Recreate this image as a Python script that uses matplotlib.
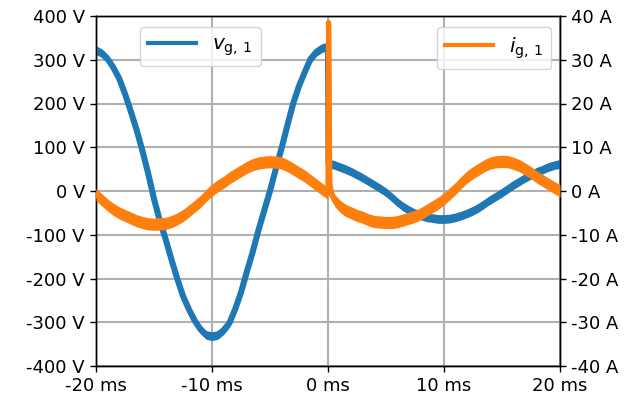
#!/usr/bin/env python3

import matplotlib
matplotlib.use("Agg")
import matplotlib.pyplot as plt
from matplotlib.lines import Line2D
from matplotlib.ticker import FuncFormatter, MultipleLocator
import numpy as np

# -------------------------- data --------------------------

# grid voltage v_g,1 (time in ms, value in V)
V_TIME = [-20, -19.5, -19, -18.5, -18, -17.5, -17, -16.5, -16, -15.5, -15, -14.5, -14,
          -13.5, -13, -12.5, -12, -11.5, -11, -10.5, -10, -9.5, -9, -8.5, -8, -7.5,
          -7, -6.5, -6, -5.5, -5, -4.5, -4, -3.5, -3, -2.5, -2, -1.5, -1, -0.5, 0,
          0.05, 0.5, 1, 1.5, 2, 2.5, 3, 3.5, 4, 4.5, 5, 5.5, 6, 6.5, 7, 7.5, 8, 8.5,
          9, 9.5, 10, 10.5, 11, 11.5, 12, 12.5, 13, 13.5, 14, 14.5, 15, 15.5, 16,
          16.5, 17, 17.5, 18, 18.5, 19, 19.5, 20]
V_VALUES = [322, 315, 302, 282, 257, 222, 182, 140, 92, 40, -18, -68, -110,
            -156, -200, -240, -270, -296, -316, -329, -332, -329, -318, -302, -270, -232,
            -185, -140, -90, -45, 0, 50, 98, 150, 200, 240, 272, 302, 318, 327, 330,
            62, 60, 55, 50, 44, 37, 30, 22, 14, 6, -3, -14, -26, -36, -44, -51, -56, -60,
            -62, -64, -64, -63, -60, -56, -51, -45, -38, -29, -20, -12, -4, 5, 14,
            22, 30, 37, 44, 49, 55, 59, 62]

# grid current i_g,1 (time in ms, value in A)
I_TIME = [-20, -19.5, -19, -18.5, -18, -17.5, -17, -16.5, -16, -15.5, -15, -14.5, -14,
          -13.5, -13, -12.5, -12, -11.5, -11, -10.5, -10, -9.5, -9, -8.5, -8, -7.5,
          -7, -6.5, -6, -5.5, -5, -4.5, -4, -3.5, -3, -2.5, -2, -1.5, -1, -0.5, 0,
          0.05, 0.15, 0.3, 0.6, 1, 1.5, 2, 2.5, 3, 3.5, 4, 4.5, 5, 5.5, 6, 6.5, 7, 7.5,
          8, 8.5, 9, 9.5, 10, 10.5, 11, 11.5, 12, 12.5, 13, 13.5, 14, 14.5, 15, 15.5,
          16, 16.5, 17, 17.5, 18, 18.5, 19, 19.5, 20]
I_VALUES = [-0.8, -2.0, -3.2, -4.2, -5.0, -5.6, -6.2, -6.8, -7.2, -7.5, -7.6, -7.5, -7.4,
            -7.0, -6.4, -5.6, -4.6, -3.5, -2.4, -1.0, 0.2, 1.2, 2.0, 3.0, 3.8, 4.6,
            5.4, 6.0, 6.4, 6.6, 6.7, 6.6, 6.4, 5.8, 5.0, 4.2, 3.4, 2.4, 1.4, 0.4, -0.5,
            38.5, 2.0, -0.8, -2.2, -3.4, -4.4, -5.0, -5.6, -6.0, -6.6, -7.0, -7.1, -7.2, -7.2,
            -7.0, -6.6, -6.2, -5.8, -5.2, -4.4, -3.6, -2.8, -1.8, -0.6, 0.6, 2.0, 3.2,
            4.2, 5.0, 5.8, 6.4, 6.7, 6.8, 6.7, 6.3, 5.8, 5.0, 4.2, 3.2, 2.4, 1.6, 0.8, 0.0]

V_LABEL = r"$v_{\mathrm{g},\,1}$"
I_LABEL = r"$i_{\mathrm{g},\,1}$"

# ------------------------------- style -------------------------------

BLUE = "#1f77b4"
ORANGE = "#ff7f0e"
FS = 13
V_BAND = 10.0   # half width of the measurement noise band (V)
I_BAND = 1.4    # half width of the measurement noise band (A)


def unit_fmt(unit):
    return FuncFormatter(lambda x, pos: f"{int(round(x))} {unit}")


def main():
    plt.rcParams["font.family"] = "DejaVu Sans"
    plt.rcParams["font.size"] = FS
    plt.rcParams["axes.linewidth"] = 1.0

    fig = plt.figure(figsize=(6.36, 4.09), dpi=100)
    ax = fig.add_axes([96 / 636, 1 - 366 / 409, 464 / 636, 350 / 409])
    ax2 = ax.twinx()

    t_v = np.array(V_TIME)
    v = np.array(V_VALUES, dtype=float)
    t_i = np.array(I_TIME)
    i = np.array(I_VALUES, dtype=float)

    ax.fill_between(t_v, v - V_BAND, v + V_BAND, color=BLUE, lw=0, zorder=3)
    ax.plot(t_v, v, color=BLUE, lw=4.4, zorder=3)

    ax2.fill_between(t_i, i - I_BAND, i + I_BAND, color=ORANGE, lw=0, zorder=3)
    ax2.plot(t_i, i, color=ORANGE, lw=3.8, zorder=3)

    ax.set_xlim(-20, 20)
    ax.set_ylim(-400, 400)
    ax2.set_ylim(-40, 40)

    ax.xaxis.set_major_locator(MultipleLocator(10))
    ax.yaxis.set_major_locator(MultipleLocator(100))
    ax2.yaxis.set_major_locator(MultipleLocator(10))
    ax.xaxis.set_major_formatter(unit_fmt("ms"))
    ax.yaxis.set_major_formatter(unit_fmt("V"))
    ax2.yaxis.set_major_formatter(unit_fmt("A"))

    ax.grid(True, color="#b0b0b0", lw=1.5, zorder=0)
    ax.set_axisbelow(True)
    for a in (ax, ax2):
        a.tick_params(labelsize=FS, width=1.0, length=4.5)

    h1 = [Line2D([], [], color=BLUE, lw=3.0)]
    h2 = [Line2D([], [], color=ORANGE, lw=3.0)]
    leg1 = ax2.legend(h1, [V_LABEL], loc="upper left",
                      bbox_to_anchor=((140 - 96) / 464, 1 - 11 / 350),
                      borderaxespad=0, handlelength=2.4, fontsize=14.5)
    ax2.add_artist(leg1)
    ax2.legend(h2, [I_LABEL], loc="upper right",
               bbox_to_anchor=((551 - 96) / 464, 1 - 11 / 350),
               borderaxespad=0, handlelength=2.4, fontsize=14.5)

    fig.savefig("out.png", dpi=100)
    plt.close(fig)


if __name__ == "__main__":
    main()
